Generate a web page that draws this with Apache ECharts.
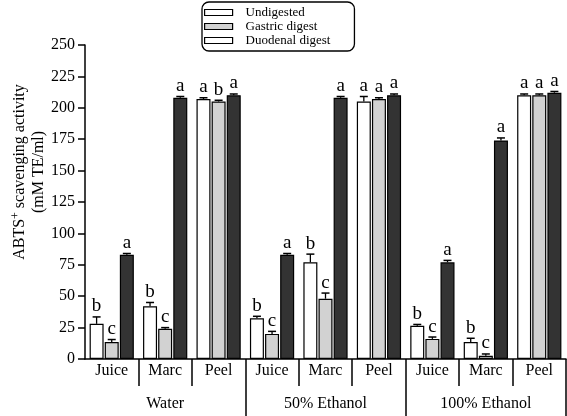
<!DOCTYPE html>
<html>
<head>
<meta charset="utf-8">
<script src="https://cdn.jsdelivr.net/npm/echarts@6/dist/echarts.min.js"></script>
<style>html,body{margin:0;padding:0;background:#fff}#c{width:567px;height:416px}</style>
</head>
<body>
<div id="c"></div>
<script>
// ---- data ----
var categories = ['Juice','Marc','Peel','Juice','Marc','Peel','Juice','Marc','Peel'];
var groups = ['Water','50% Ethanol','100% Ethanol'];
var seriesNames = ['Undigested','Gastric digest','Duodenal digest'];
var undigested = [28, 42, 207, 32.5, 77, 205, 26.5, 13.5, 210];
var gastric    = [13.5, 24, 205, 20, 48, 207, 16, 2.5, 210];
var duodenal   = [83, 208, 210, 83, 208, 210, 77, 174, 212];
var errUndigested = [5.5, 3, 1, 1.5, 6.5, 4, 1, 3, 1];
var errGastric    = [2, 1, 1, 2, 4.5, 1, 1.5, 1.5, 1];
var errDuodenal   = [1, 1, 1, 1, 1, 1, 1.5, 2, 1];
var letUndigested = ['b','b','a','b','b','a','b','b','a'];
var letGastric    = ['c','c','b','c','c','a','c','c','a'];
var letDuodenal   = ['a','a','a','a','a','a','a','a','a'];
var yTicks = {min: 0, max: 250, interval: 25};

// ---- build ----
var FONT = 'Liberation Serif';
var BAR_W = 14, BAR_GAP = 0.08;
var vals = [undigested, gastric, duodenal];
var errs = [errUndigested, errGastric, errDuodenal];
var lets = [letUndigested, letGastric, letDuodenal];
var fills = ['#ffffff', '#d2d2d2', '#333333'];
var legendFills = ['#ffffff', '#d2d2d2', '#ffffff'];

var errData = [];
for (var s = 0; s < 3; s++) {
  for (var i = 0; i < categories.length; i++) {
    errData.push([i, vals[s][i], errs[s][i], s, lets[s][i]]);
  }
}

var series = seriesNames.map(function (n, s) {
  return {
    name: n, type: 'bar', data: vals[s], barWidth: BAR_W, barGap: (BAR_GAP*100) + '%',
    itemStyle: {color: fills[s], borderColor: '#000', borderWidth: 1.2},
    xAxisIndex: 0, yAxisIndex: 0
  };
});
series.push({
  type: 'custom', xAxisIndex: 0, yAxisIndex: 0, data: errData, z: 5,
  renderItem: function (params, api) {
    var ci = api.value(0), v = api.value(1), e = api.value(2), s = api.value(3);
    var letter = errData[params.dataIndex][4];
    var off = (s - 1) * BAR_W * (1 + BAR_GAP);
    var p0 = api.coord([ci, v]);
    var p1 = api.coord([ci, v + e]);
    var x = p0[0] + off;
    var cap = 4;
    return {
      type: 'group',
      children: [
        {type: 'line', shape: {x1: x, y1: p0[1], x2: x, y2: p1[1]}, style: {stroke: '#000', lineWidth: 1.3}},
        {type: 'line', shape: {x1: x - cap, y1: p1[1], x2: x + cap, y2: p1[1]}, style: {stroke: '#000', lineWidth: 1.5}},
        {type: 'text', x: x, y: p1[1] - 1, style: {text: letter, fill: '#000', font: '19px "' + FONT + '"', textAlign: 'center', textVerticalAlign: 'bottom'}}
      ]
    };
  }
});

var chart = echarts.init(document.getElementById('c'), null, {renderer: 'canvas'});
chart.setOption({
  animation: false,
  backgroundColor: '#fff',
  textStyle: {fontFamily: FONT},
  grid: {left: 85, right: 1, top: 45, bottom: 57, containLabel: false},
  legend: {
    orient: 'vertical', left: 202, top: 2,
    data: seriesNames.map(function (n, s) { return {name: n, itemStyle: {color: legendFills[s], borderColor: '#000', borderWidth: 1.2}}; }),
    icon: 'rect', itemWidth: 28, itemHeight: 6, itemGap: 1,
    borderColor: '#000', borderWidth: 1.3, borderRadius: 7,
    padding: [4, 24, 4, 2],
    textStyle: {fontFamily: FONT, fontSize: 13, color: '#000', padding: [0, 0, 0, 8]},
    selectedMode: false
  },
  xAxis: [{
    type: 'category', data: categories, position: 'bottom',
    axisLine: {show: true, lineStyle: {color: '#000', width: 1.5}},
    axisTick: {show: true, length: 27, interval: function (idx) { return idx !== 0; }, lineStyle: {color: '#000', width: 1.5}},
    axisLabel: {interval: 0, margin: 4, fontFamily: FONT, fontSize: 16, color: '#000'},
    splitLine: {show: false}
  }, {
    type: 'category', data: groups, position: 'bottom', offset: 0,
    axisLine: {show: false},
    axisTick: {show: true, length: 60, interval: function (idx) { return idx !== 0; }, lineStyle: {color: '#000', width: 1.5}},
    axisLabel: {interval: 0, margin: 37, fontFamily: FONT, fontSize: 16, color: '#000'},
    splitLine: {show: false}
  }],
  yAxis: {
    type: 'value', min: yTicks.min, max: yTicks.max, interval: yTicks.interval,
    axisLine: {show: true, lineStyle: {color: '#000', width: 1.5}},
    axisTick: {show: true, length: 7, lineStyle: {color: '#000', width: 1.5}},
    axisLabel: {margin: 10, fontFamily: FONT, fontSize: 16, color: '#000'},
    splitLine: {show: false}
  },
  graphic: [
    {type: 'text', x: 20, y: 172, rotation: Math.PI / 2,
     style: {text: '{n|ABTS}{s|+}{n| scavenging activity}', textAlign: 'center', textVerticalAlign: 'middle',
       rich: {n: {fontFamily: FONT, fontSize: 16, fill: '#000'}, s: {fontFamily: FONT, fontSize: 12, fill: '#000', padding: [0, 0, 9, 0]}}}},
    {type: 'text', x: 39, y: 172, rotation: Math.PI / 2,
     style: {text: '(mM TE/ml)', font: '16px "' + FONT + '"', fill: '#000', textAlign: 'center', textVerticalAlign: 'middle'}}
  ],
  series: series
});
</script>
</body>
</html>
